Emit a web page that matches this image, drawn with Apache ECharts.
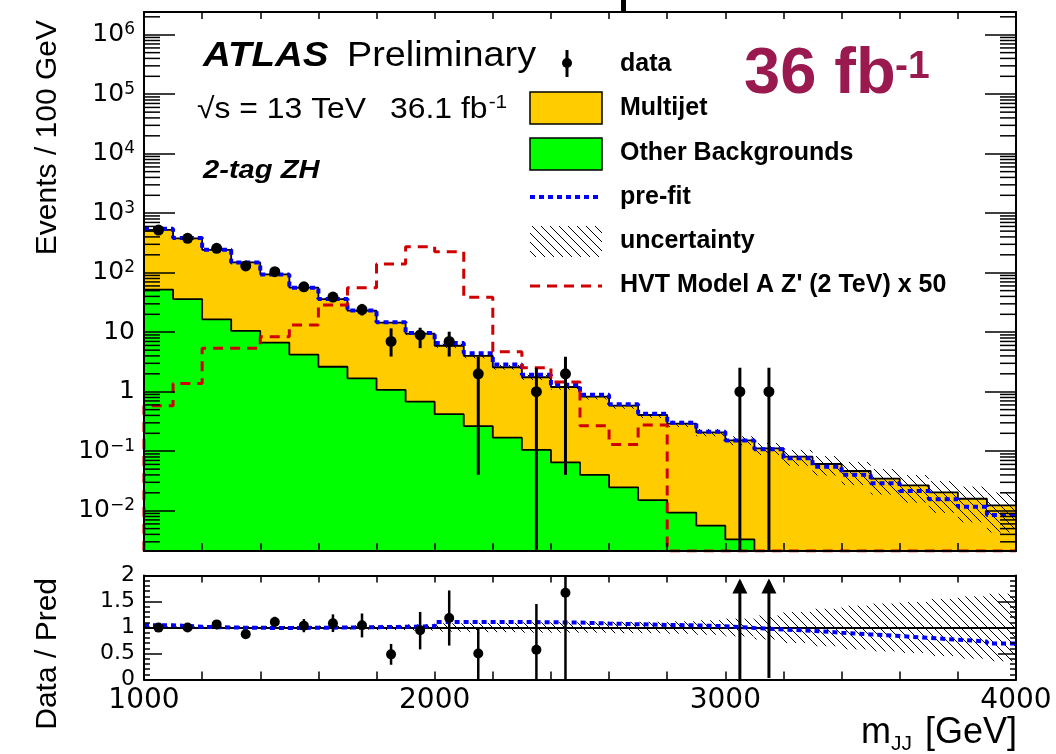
<!DOCTYPE html>
<html>
<head>
<meta charset="utf-8">
<script src="https://cdn.jsdelivr.net/npm/echarts@6.0.0/dist/echarts.min.js"></script>
<style>
html,body{margin:0;padding:0;background:#ffffff;}
#chart{width:1056px;height:754px;}
</style>
</head>
<body>
<div id="chart"></div>
<script>
// ---------------- data ----------------
const binLowEdges = [1000,1100,1200,1300,1400,1500,1600,1700,1800,1900,2000,2100,2200,2300,2400,2500,2600,2700,2800,2900,3000,3100,3200,3300,3400,3500,3600,3700,3800,3900];
const binWidth = 100;
const dataCounts  = [522,378,257,130,104,58,39,24,7,9,7,2,0,1,2,0,0,0,0,0,1,1,0,0,0,0,0,0,0,0];
const dataErrUp   = [23,19.5,16,11.4,10.2,8.7,7.3,5.9,4.6,2.9,3.2,1.87,0,1.53,1.87,0,0,0,0,0,1.53,1.53,0,0,0,0,0,0,0,0];
const dataErrDown = [23,19.5,16,11.4,10.2,7.6,6.2,4.9,3.1,3.6,3.1,1.96,0,1,1.96,0,0,0,0,0,1,1,0,0,0,0,0,0,0,0];
const multijet = [471,342,226,138.5,87.3,51.8,33.4,21.3,13.4,8.8,5.5,3.74,2.41,1.645,1.135,0.784,0.557,0.391,0.281,0.202,0.149,0.112,0.081,0.061,0.0465,0.0345,0.0267,0.0204,0.0159,0.0123];
const otherBkg = [52,36,16.5,10.5,6.7,4.2,2.63,1.68,1.07,0.68,0.42,0.265,0.169,0.105,0.065,0.04,0.0247,0.0151,0.0093,0.0056,0.0033,0,0,0,0,0,0,0,0,0];
const preFitRatio = [1.044,1.013,1.0,0.994,0.99,0.994,1.0,1.006,1.013,1.025,1.108,1.108,1.108,1.10,1.095,1.076,1.063,1.05,1.04,1.025,0.99,0.962,0.937,0.90,0.867,0.836,0.80,0.766,0.73,0.69];
const uncRel = [0.02,0.02,0.02,0.025,0.03,0.03,0.035,0.04,0.05,0.06,0.08,0.09,0.09,0.1,0.1,0.1,0.11,0.11,0.12,0.14,0.17,0.23,0.30,0.36,0.42,0.46,0.49,0.55,0.60,0.65];
const hvtSignalx50 = [0.58,1.38,5.4,5.4,8.4,13.2,28.7,56,140,273,225,38.6,4.7,2.53,1.45,0.268,0.13,0.275,0,0,0,0,0,0,0,0,0,0,0,0];
const ratioErrUp   = [0.045,0.05,0.065,0.08,0.1,0.127,0.17,0.225,0.2,0.35,0.53,0.48,0,0.88,0.9,0,0,0,0,0,6.6,8.9,0,0,0,0,0,0,0,0];
const ratioErrDown = [0.045,0.05,0.065,0.08,0.1,0.127,0.17,0.235,0.2,0.37,0.53,0.52,0,0.571,1.667,0,0,0,0,0,6.6,8.9,0,0,0,0,0,0,0,0];
const xTickLabels = ['1000','2000','3000','4000'];
const ratioTickLabels = ['0','0.5','1','1.5','2'];

// ---------------- helpers ----------------
const Y_MIN = 0.002103, Y_MAX = 2.41e6;
const N = binLowEdges.length;
const FONT = '"Liberation Sans", Arial, Helvetica, sans-serif';
const TICKFONT = '"DejaVu Sans", "Liberation Sans", sans-serif';
const floorLog = v => (v > Y_MIN ? v : Y_MIN);
const total = multijet.map((v, i) => v + otherBkg[i]);
const preFit = total.map((v, i) => v * preFitRatio[i]);
const centers = binLowEdges.map(e => e + binWidth / 2);
function steps(vals, clampFn) {
  const pts = binLowEdges.map((e, i) => [e, clampFn(vals[i])]);
  pts.push([binLowEdges[N - 1] + binWidth, clampFn(vals[N - 1])]);
  return pts;
}
const idn = v => v;

// hatch renderer: diagonal "\" lines clipped to the bin rectangle
function hatchRender(params, api) {
  const cs = params.coordSys;
  const x0 = api.value(0), x1 = api.value(1);
  const lo = api.value(2), hi = api.value(3);
  const pTop = api.coord([x0, hi]);
  const pBot = api.coord([x1, lo]);
  let left = pTop[0], right = pBot[0];
  let top = Math.max(pTop[1], cs.y), bottom = Math.min(pBot[1], cs.y + cs.height);
  if (!(bottom > top)) return null;
  const sp = 9;
  const children = [];
  const cMin = top - right, cMax = bottom - left;
  for (let c = Math.ceil(cMin / sp) * sp; c <= cMax; c += sp) {
    const xa = Math.max(left, top - c), xb = Math.min(right, bottom - c);
    if (xb > xa) children.push({type: 'line', shape: {x1: xa, y1: xa + c, x2: xb, y2: xb + c}, style: {stroke: '#000', lineWidth: 1}});
  }
  return {type: 'group', children: children};
}

// ---------------- tables built from the arrays ----------------
const mainHatchData = binLowEdges.map((e, i) => [e, e + binWidth, floorLog(total[i] * (1 - uncRel[i])), total[i] * (1 + uncRel[i])]);
const ratioHatchData = binLowEdges.map((e, i) => [e, e + binWidth, 1 - uncRel[i], 1 + uncRel[i]]);
const pointData = [], errData = [], ratioPts = [], ratioErr = [];
for (let i = 0; i < N; i++) {
  if (dataCounts[i] > 0) {
    pointData.push([centers[i], dataCounts[i]]);
    errData.push([centers[i], dataCounts[i], dataErrUp[i], dataErrDown[i]]);
    const r = dataCounts[i] / total[i];
    ratioErr.push([centers[i], r, ratioErrUp[i], ratioErrDown[i]]);
    if (r <= 2) ratioPts.push([centers[i], r]);
  }
}
const hvtSteps = [[binLowEdges[0], Y_MIN]].concat(steps(hvtSignalx50, floorLog));
const minorTickVals = [];
for (let k = -3; k <= 6; k++) for (let m = 2; m <= 9; m++) {
  const v = m * Math.pow(10, k);
  if (v > Y_MIN && v < Y_MAX) minorTickVals.push([v]);
}

function logLabel(v) {
  const e = Math.log10(v);
  const r = Math.round(e);
  if (Math.abs(e - r) > 1e-6) return '';
  if (r === 0) return '1';
  if (r === 1) return '10';
  if (r < 0) return '10{s|\u2212' + (-r) + '}';
  return '10{s|' + r + '}';
}

const frame = {lineStyle: {color: '#000', width: 2}, onZero: false};
const tickStyle = {color: '#000', width: 1.5};
const xBase = {type: 'value', min: 1000, max: 4000, interval: 200, splitLine: {show: false}, axisLine: frame, z: 10};

const chart = echarts.init(document.getElementById('chart'), null, {renderer: 'canvas'});

const graphics = [];
function txt(x, y, text, font, extra) {
  graphics.push(Object.assign({type: 'text', x: x, y: y, z: 100,
    style: {text: text, font: font, fill: '#000', textVerticalAlign: 'middle', verticalAlign: 'middle', textAlign: 'left', align: 'left'}}, extra || {}));
}
// labels
txt(203, 56, 'ATLAS', 'italic bold 35px ' + FONT, {scaleX: 1.1});
txt(347, 56, 'Preliminary', '35px ' + FONT, {scaleX: 1.08});
txt(197, 110, '\u221As = 13 TeV', '29px ' + FONT, {scaleX: 1.1});
graphics.push({type: 'text', x: 390, y: 110, z: 100, scaleX: 1.1, style: {
  text: '36.1 fb{sup|-1}', font: '29px ' + FONT, fill: '#000', align: 'left', textAlign: 'left', verticalAlign: 'middle', textVerticalAlign: 'middle',
  rich: {sup: {fontSize: 19, fontFamily: FONT, verticalAlign: 'top', padding: [0, 0, 14, 1]}}}});
txt(203, 171, '2-tag ZH', 'italic bold 26px ' + FONT, {scaleX: 1.12});
graphics.push({type: 'text', x: 744, y: 75, z: 100, style: {text: '36 fb', font: 'bold 65px ' + FONT, fill: '#9a1a4f', verticalAlign: 'middle', textVerticalAlign: 'middle'}});
graphics.push({type: 'text', x: 895, y: 67, z: 100, style: {text: '-1', font: 'bold 39px ' + FONT, fill: '#9a1a4f', verticalAlign: 'middle', textVerticalAlign: 'middle'}});
// legend
const LF = 'bold 25px ' + FONT;
graphics.push({type: 'line', z: 100, shape: {x1: 567, y1: 50, x2: 567, y2: 77}, style: {stroke: '#000', lineWidth: 3}});
graphics.push({type: 'circle', z: 100, shape: {cx: 567, cy: 63, r: 5}, style: {fill: '#000'}});
txt(620, 64, 'data', LF);
graphics.push({type: 'rect', z: 100, shape: {x: 530, y: 92, width: 72, height: 32}, style: {fill: '#ffcc00', stroke: '#000', lineWidth: 1.5}});
txt(620, 108, 'Multijet', LF);
graphics.push({type: 'rect', z: 100, shape: {x: 530, y: 138, width: 72, height: 32}, style: {fill: '#00ff00', stroke: '#000', lineWidth: 1.5}});
txt(620, 153, 'Other Backgrounds', LF);
graphics.push({type: 'line', z: 100, shape: {x1: 530, y1: 197, x2: 602, y2: 197}, style: {stroke: '#0000ff', lineWidth: 4, lineDash: [5, 4]}});
txt(620, 197, 'pre-fit', LF);
(function () {
  const l = 530, r = 602, t = 226, b = 257, sp = 9;
  for (let c = Math.ceil((t - r) / sp) * sp; c <= b - l; c += sp) {
    const xa = Math.max(l, t - c), xb = Math.min(r, b - c);
    if (xb > xa) graphics.push({type: 'line', z: 100, shape: {x1: xa, y1: xa + c, x2: xb, y2: xb + c}, style: {stroke: '#000', lineWidth: 1}});
  }
})();
txt(620, 241, 'uncertainty', LF);
graphics.push({type: 'line', z: 100, shape: {x1: 530, y1: 286, x2: 602, y2: 286}, style: {stroke: '#d00000', lineWidth: 3, lineDash: [10, 7]}});
txt(620, 285, "HVT Model A Z' (2 TeV) x 50", LF);
// axis titles
graphics.push({type: 'text', x: 48, y: 20, rotation: Math.PI / 2, z: 100, style: {text: 'Events / 100 GeV', font: '30px ' + FONT, fill: '#000', align: 'right', textAlign: 'right', verticalAlign: 'middle', textVerticalAlign: 'middle'}});
graphics.push({type: 'text', x: 48, y: 578, rotation: Math.PI / 2, z: 100, style: {text: 'Data / Pred', font: '30px ' + FONT, fill: '#000', align: 'right', textAlign: 'right', verticalAlign: 'middle', textVerticalAlign: 'middle'}});
graphics.push({type: 'text', x: 1017, y: 733, z: 100, style: {
  text: 'm{sub|JJ} [GeV]', align: 'right', textAlign: 'right', verticalAlign: 'middle', textVerticalAlign: 'middle',
  font: '36px ' + FONT, fill: '#000',
  rich: {sub: {fontSize: 21, fontFamily: FONT, padding: [22, 3, 0, 0], verticalAlign: 'bottom'}}}});
// cropped artefact at the very top of the picture
graphics.push({type: 'rect', z: 100, shape: {x: 621, y: 0, width: 5, height: 12}, style: {fill: '#000'}});

const option = {
  animation: false,
  backgroundColor: '#ffffff',
  grid: [
    {left: 144, top: 12, width: 872, height: 539},
    {left: 144, top: 575.5, width: 872, height: 104}
  ],
  xAxis: [
    Object.assign({}, xBase, {gridIndex: 0, position: 'bottom', axisTick: {inside: true, length: 8, lineStyle: tickStyle}, axisLabel: {show: false}}),
    Object.assign({}, xBase, {gridIndex: 0, position: 'top', axisTick: {inside: true, length: 7, lineStyle: tickStyle}, axisLabel: {show: false}}),
    Object.assign({}, xBase, {gridIndex: 1, position: 'bottom', axisTick: {inside: true, length: 8, lineStyle: tickStyle},
      axisLabel: {show: true, margin: 7, color: '#000', fontFamily: TICKFONT, fontSize: 28,
        formatter: v => (xTickLabels.indexOf(String(v)) >= 0 ? String(v) : '')}}),
    Object.assign({}, xBase, {gridIndex: 1, position: 'top', axisTick: {inside: true, length: 7, lineStyle: tickStyle}, axisLabel: {show: false}})
  ],
  yAxis: [
    {gridIndex: 0, type: 'log', min: Y_MIN, max: Y_MAX, splitNumber: 9, position: 'left', z: 10,
      axisLine: frame, splitLine: {show: false},
      axisTick: {inside: true, length: 31, lineStyle: tickStyle},
      axisLabel: {show: true, margin: 9, color: '#000', fontFamily: TICKFONT, fontSize: 25, formatter: logLabel,
        rich: {s: {fontFamily: TICKFONT, fontSize: 17, color: '#000', verticalAlign: 'top', padding: [0, 0, 10, 0]}}}},
    {gridIndex: 0, type: 'log', min: Y_MIN, max: Y_MAX, splitNumber: 9, position: 'right', z: 10,
      axisLine: frame, splitLine: {show: false},
      axisTick: {inside: true, length: 31, lineStyle: tickStyle}, axisLabel: {show: false}},
    {gridIndex: 1, type: 'value', min: 0, max: 2, interval: 0.5, position: 'left', z: 10,
      axisLine: frame, splitLine: {show: false},
      axisTick: {inside: true, length: 18, lineStyle: tickStyle},
      minorTick: {show: true, splitNumber: 5, length: 6, lineStyle: tickStyle},
      axisLabel: {show: true, margin: 9, color: '#000', fontFamily: TICKFONT, fontSize: 22,
        formatter: v => { const s = String(v); return ratioTickLabels.indexOf(s) >= 0 ? s : ''; }}},
    {gridIndex: 1, type: 'value', min: 0, max: 2, interval: 0.5, position: 'right', z: 10,
      axisLine: frame, splitLine: {show: false},
      axisTick: {inside: true, length: 18, lineStyle: tickStyle},
      minorTick: {show: true, splitNumber: 5, length: 6, lineStyle: tickStyle},
      axisLabel: {show: false}}
  ],
  graphic: {elements: graphics},
  series: [
    {name: 'Multijet', type: 'line', xAxisIndex: 0, yAxisIndex: 0, step: 'end', symbol: 'none', z: 1,
      data: steps(total, floorLog), lineStyle: {color: '#000', width: 1.8},
      areaStyle: {color: '#ffcc00', opacity: 1, origin: 'start'}},
    {name: 'Other Backgrounds', type: 'line', xAxisIndex: 0, yAxisIndex: 0, step: 'end', symbol: 'none', z: 2,
      data: steps(otherBkg, floorLog), lineStyle: {color: '#000', width: 1.8},
      areaStyle: {color: '#00ff00', opacity: 1, origin: 'start'}},
    {name: 'uncertainty', type: 'custom', xAxisIndex: 0, yAxisIndex: 0, z: 3,
      encode: {x: [0, 1], y: [2, 3]}, data: mainHatchData, renderItem: hatchRender},
    {name: 'pre-fit', type: 'line', xAxisIndex: 0, yAxisIndex: 0, step: 'end', symbol: 'none', z: 4,
      data: steps(preFit, floorLog), lineStyle: {color: '#0000ff', width: 4, type: [5, 4]}},
    {name: "HVT Model A Z' (2 TeV) x 50", type: 'line', xAxisIndex: 0, yAxisIndex: 0, step: 'end', symbol: 'none', z: 5,
      data: hvtSteps, lineStyle: {color: '#d00000', width: 3, type: [10, 7]}},
    {name: 'data errors', type: 'custom', xAxisIndex: 0, yAxisIndex: 0, z: 6, encode: {x: 0, y: 1}, data: errData,
      renderItem: function (params, api) {
        const cs = params.coordSys;
        const x = api.value(0), y = api.value(1), up = api.value(2), dn = api.value(3);
        const px = api.coord([x, y])[0];
        const top = Math.max(api.coord([x, y + up])[1], cs.y);
        const lowV = y - dn;
        const bot = lowV > Y_MIN ? api.coord([x, lowV])[1] : cs.y + cs.height;
        return {type: 'line', shape: {x1: px, y1: top, x2: px, y2: bot}, style: {stroke: '#000', lineWidth: 3}};
      }},
    {name: 'data', type: 'scatter', xAxisIndex: 0, yAxisIndex: 0, z: 7, symbol: 'circle', symbolSize: 11,
      itemStyle: {color: '#000', opacity: 1}, data: pointData},
    {name: 'minor ticks', type: 'custom', xAxisIndex: 0, yAxisIndex: 0, z: 9, silent: true, encode: {y: 0},
      data: minorTickVals,
      renderItem: function (params, api) {
        const cs = params.coordSys;
        const y = api.coord([1000, api.value(0)])[1];
        return {type: 'group', children: [
          {type: 'line', shape: {x1: cs.x, y1: y, x2: cs.x + 16, y2: y}, style: {stroke: '#000', lineWidth: 1.5}},
          {type: 'line', shape: {x1: cs.x + cs.width - 16, y1: y, x2: cs.x + cs.width, y2: y}, style: {stroke: '#000', lineWidth: 1.5}}
        ]};
      }},
    // ---- ratio panel ----
    {name: 'ratio uncertainty', type: 'custom', xAxisIndex: 2, yAxisIndex: 2, z: 3,
      encode: {x: [0, 1], y: [2, 3]}, data: ratioHatchData, renderItem: hatchRender},
    {name: 'unity', type: 'line', xAxisIndex: 2, yAxisIndex: 2, z: 4, data: [], symbol: 'none',
      markLine: {silent: true, symbol: 'none', label: {show: false}, lineStyle: {color: '#000', width: 2, type: 'solid'}, data: [{yAxis: 1}]}},
    {name: 'pre-fit ratio', type: 'line', xAxisIndex: 2, yAxisIndex: 2, step: 'end', symbol: 'none', z: 5,
      data: steps(preFitRatio, idn), lineStyle: {color: '#0000ff', width: 4, type: [5, 4]}},
    {name: 'ratio errors', type: 'custom', xAxisIndex: 2, yAxisIndex: 2, z: 6, encode: {x: 0, y: 1}, data: ratioErr,
      renderItem: function (params, api) {
        const cs = params.coordSys;
        const x = api.value(0), r = api.value(1), up = api.value(2), dn = api.value(3);
        const px = api.coord([x, 1])[0];
        const yTop = cs.y, yBot = cs.y + cs.height;
        const lowP = Math.min(api.coord([x, Math.max(r - dn, 0)])[1], yBot);
        if (r > 2) {
          return {type: 'group', children: [
            {type: 'line', shape: {x1: px, y1: lowP, x2: px, y2: yTop + 6}, style: {stroke: '#000', lineWidth: 3}},
            {type: 'polygon', shape: {points: [[px, yTop + 3], [px - 7.5, yTop + 18], [px + 7.5, yTop + 18]]}, style: {fill: '#000'}}
          ]};
        }
        const highP = Math.max(api.coord([x, r + up])[1], yTop);
        return {type: 'line', shape: {x1: px, y1: highP, x2: px, y2: lowP}, style: {stroke: '#000', lineWidth: 2.5}};
      }},
    {name: 'ratio data', type: 'scatter', xAxisIndex: 2, yAxisIndex: 2, z: 7, symbol: 'circle', symbolSize: 10,
      itemStyle: {color: '#000', opacity: 1}, data: ratioPts}
  ]
};
chart.setOption(option);
</script>
</body>
</html>
